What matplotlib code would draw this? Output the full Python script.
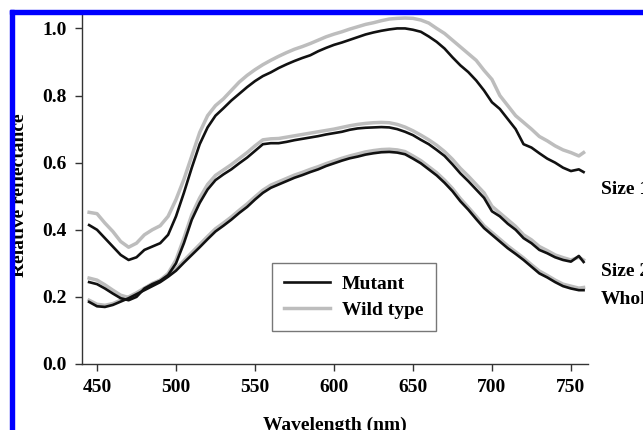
import numpy as np
import matplotlib
matplotlib.use("Agg")
import matplotlib.pyplot as plt
from matplotlib.patches import Rectangle

## DATA (relative reflectance)
wavelength = list(range(445, 760, 5)) + [758]

size1_mutant = [0.414, 0.400, 0.375, 0.350, 0.325, 0.310, 0.318, 0.340, 0.350, 0.360,
                0.385, 0.440, 0.510, 0.585, 0.655, 0.705, 0.740, 0.762, 0.785, 0.805,
                0.825, 0.843, 0.858, 0.869, 0.882, 0.893, 0.903, 0.912, 0.920, 0.932,
                0.942, 0.951, 0.958, 0.966, 0.974, 0.982, 0.988, 0.993, 0.997, 1.000,
                1.000, 0.996, 0.990, 0.976, 0.960, 0.940, 0.914, 0.890, 0.870, 0.845,
                0.815, 0.780, 0.760, 0.730, 0.700, 0.655, 0.645, 0.628, 0.612, 0.600,
                0.585, 0.575, 0.580, 0.572]
size1_wild = [0.452, 0.448, 0.420, 0.395, 0.365, 0.348, 0.360, 0.385, 0.400, 0.412,
              0.440, 0.490, 0.550, 0.620, 0.690, 0.740, 0.770, 0.790, 0.815, 0.840,
              0.860, 0.877, 0.892, 0.905, 0.917, 0.928, 0.938, 0.946, 0.955, 0.965,
              0.975, 0.983, 0.990, 0.998, 1.005, 1.012, 1.017, 1.023, 1.028, 1.030,
              1.031, 1.030, 1.025, 1.016, 1.000, 0.985, 0.965, 0.945, 0.925, 0.905,
              0.875, 0.848, 0.800, 0.770, 0.740, 0.720, 0.700, 0.678, 0.665, 0.650,
              0.638, 0.630, 0.620, 0.630]

size2_mutant = [0.244, 0.238, 0.225, 0.210, 0.196, 0.190, 0.200, 0.225, 0.238, 0.248,
                0.265, 0.300, 0.360, 0.430, 0.480, 0.520, 0.548, 0.565, 0.580, 0.598,
                0.615, 0.635, 0.655, 0.658, 0.658, 0.662, 0.667, 0.671, 0.675, 0.679,
                0.684, 0.688, 0.692, 0.698, 0.702, 0.704, 0.705, 0.706, 0.705, 0.700,
                0.692, 0.682, 0.668, 0.655, 0.638, 0.620, 0.595, 0.568, 0.545, 0.520,
                0.495, 0.455, 0.440, 0.418, 0.400, 0.375, 0.360, 0.340, 0.330, 0.318,
                0.310, 0.305, 0.322, 0.304]
size2_wild = [0.256, 0.250, 0.236, 0.220, 0.205, 0.198, 0.205, 0.225, 0.240, 0.250,
              0.270, 0.310, 0.375, 0.445, 0.495, 0.535, 0.562, 0.578, 0.594, 0.612,
              0.630, 0.650, 0.668, 0.671, 0.672, 0.676, 0.680, 0.684, 0.688, 0.692,
              0.696, 0.700, 0.705, 0.710, 0.714, 0.717, 0.719, 0.720, 0.719, 0.714,
              0.706, 0.695, 0.682, 0.668, 0.652, 0.633, 0.610, 0.583, 0.560, 0.535,
              0.510, 0.470, 0.450, 0.430, 0.410, 0.385, 0.370, 0.350, 0.338, 0.325,
              0.317, 0.310, 0.318, 0.310]

whole_mutant = [0.185, 0.172, 0.170, 0.176, 0.186, 0.196, 0.208, 0.220, 0.232, 0.244,
                0.260, 0.278, 0.302, 0.325, 0.348, 0.372, 0.395, 0.412, 0.430, 0.450,
                0.468, 0.490, 0.510, 0.525, 0.535, 0.545, 0.555, 0.563, 0.572, 0.580,
                0.590, 0.598, 0.606, 0.613, 0.618, 0.624, 0.628, 0.631, 0.632, 0.630,
                0.625, 0.612, 0.598, 0.580, 0.562, 0.540, 0.515, 0.485, 0.460, 0.432,
                0.405, 0.385, 0.365, 0.345, 0.328, 0.310, 0.290, 0.270, 0.258, 0.244,
                0.232, 0.225, 0.220, 0.220]
whole_wild = [0.190, 0.178, 0.175, 0.180, 0.190, 0.200, 0.212, 0.226, 0.238, 0.250,
              0.265, 0.284, 0.308, 0.332, 0.356, 0.380, 0.403, 0.420, 0.438, 0.458,
              0.477, 0.498, 0.518, 0.533, 0.543, 0.553, 0.563, 0.571, 0.580, 0.588,
              0.597, 0.605, 0.613, 0.620, 0.626, 0.632, 0.636, 0.639, 0.640, 0.638,
              0.633, 0.620, 0.606, 0.588, 0.570, 0.548, 0.523, 0.493, 0.467, 0.440,
              0.412, 0.392, 0.372, 0.352, 0.334, 0.316, 0.296, 0.277, 0.264, 0.250,
              0.238, 0.232, 0.226, 0.228]

curve_names = ["Size 1", "Size 2", "Whole"]
x_ticks = [450, 500, 550, 600, 650, 700, 750]
y_ticks = [0.0, 0.2, 0.4, 0.6, 0.8, 1.0]

## STYLE
plt.rcParams['font.family'] = ['Liberation Serif', 'DejaVu Serif']
plt.rcParams['font.weight'] = 'bold'
BLACK = "#111111"
GREY = "#bdbdbd"

fig = plt.figure(figsize=(6.43, 4.30), dpi=100)
ax = fig.add_axes([82 / 643, 66 / 430, 506 / 643, 349 / 430])

# wild type first so the mutant sits on top
ax.plot(wavelength, size1_wild, color=GREY, lw=2.5, label="Wild type")
ax.plot(wavelength, size2_wild, color=GREY, lw=2.5)
ax.plot(wavelength, whole_wild, color=GREY, lw=2.5)
ax.plot(wavelength, size1_mutant, color=BLACK, lw=1.9, label="Mutant")
ax.plot(wavelength, size2_mutant, color=BLACK, lw=1.9)
ax.plot(wavelength, whole_mutant, color=BLACK, lw=1.9)

ax.set_xlim(440.5, 760.8)
ax.set_ylim(0, 1.04)
ax.set_xticks(x_ticks)
ax.set_yticks(y_ticks)
ax.set_yticklabels(["%.1f" % v for v in y_ticks])
ax.tick_params(direction='out', length=5, width=1, labelsize=14, pad=6, color="#333333")
for side in ["top", "right"]:
    ax.spines[side].set_visible(False)
for side in ["left", "bottom"]:
    ax.spines[side].set_color("#333333")
    ax.spines[side].set_linewidth(1)

handles, labels = ax.get_legend_handles_labels()
leg = ax.legend(handles[::-1], labels[::-1], loc='upper left',
                bbox_to_anchor=(0.375, 0.289), borderaxespad=0,
                fancybox=False, edgecolor="#777777", framealpha=1,
                fontsize=14, handlelength=2.4, labelspacing=0.42,
                borderpad=0.62, handletextpad=0.6)
leg.get_frame().set_linewidth(1)

# curve names on the right edge (cut off by the crop, as in the original)
label_y = [190, 272, 299]
for name, ypx in zip(curve_names, label_y):
    fig.text(601 / 643, 1 - ypx / 430, name, fontsize=14, fontweight='bold',
             va='center', ha='left')

fig.text(20 / 643, 1 - 195 / 430, "Relative reflectance", rotation=90,
         fontsize=14, fontweight='bold', va='center', ha='center')
fig.text(335 / 643, 1 - 417 / 430, "Wavelength (nm)", fontsize=14,
         fontweight='bold', va='top', ha='center')

# blue frame of the cropped figure
fig.add_artist(Rectangle((10 / 643, 416 / 430), 1, 4 / 430, transform=fig.transFigure,
                         color="#0000ff", zorder=10))
fig.add_artist(Rectangle((10 / 643, 0), 4 / 643, 420 / 430, transform=fig.transFigure,
                         color="#0000ff", zorder=10))

fig.savefig("out.png", dpi=100)
